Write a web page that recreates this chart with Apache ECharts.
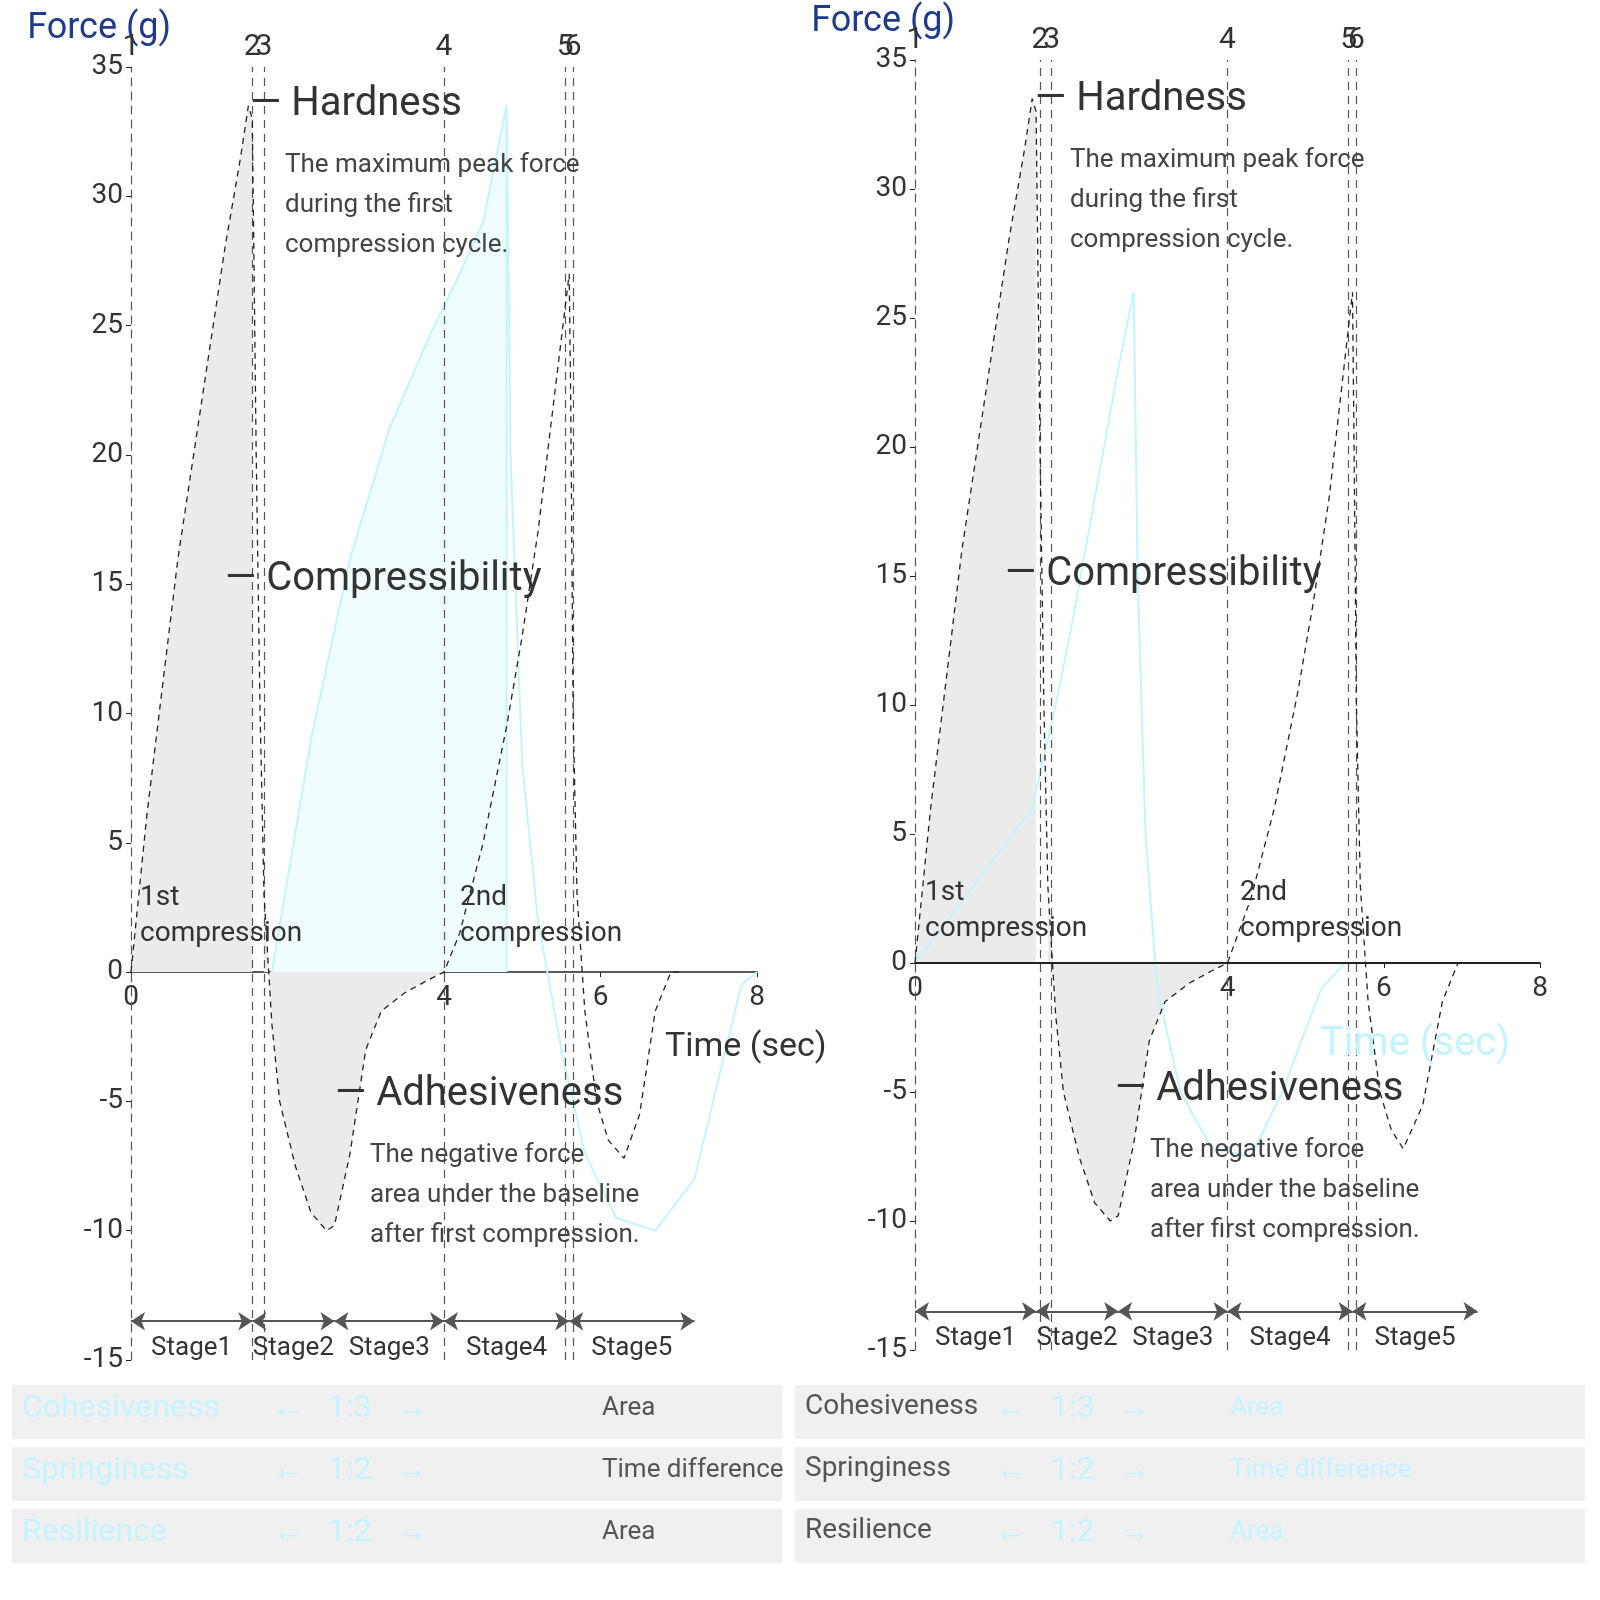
<!DOCTYPE html>
<html>
<head>
<meta charset="utf-8">
<script src="https://cdn.jsdelivr.net/npm/echarts@6/dist/echarts.min.js"></script>
<style>html,body{margin:0;background:#fff}#c{width:1600px;height:1600px}</style>
</head>
<body>
<div id="c"></div>
<script>
// force curves, [time sec, force g]
const leftForce = [[0,0],[0.1,3],[0.2,6],[0.4,11],[0.6,16],[0.8,20],[1.0,24],[1.2,28],[1.4,31.5],[1.5,33.5],[1.55,33],[1.6,20],[1.65,10],[1.7,3],[1.8,-2],[1.9,-5],[2.1,-7.5],[2.3,-9.3],[2.5,-10],[2.6,-9.8],[2.8,-7],[3.0,-3],[3.2,-1.5],[3.5,-0.8],[3.8,-0.3],[4.0,0],[4.2,1.5],[4.5,5],[4.8,9.5],[5.0,13],[5.2,17],[5.4,22],[5.6,27],[5.62,22],[5.65,10],[5.7,3],[5.8,-1.5],[5.95,-5],[6.1,-6.5],[6.3,-7.2],[6.5,-5.5],[6.7,-1.5],[6.9,0],[7.0,0]];
const rightForce = [[0,0],[0.1,3],[0.2,6],[0.4,11],[0.6,16],[0.8,20],[1.0,24],[1.2,28],[1.4,31.5],[1.5,33.5],[1.55,33],[1.6,20],[1.65,10],[1.7,3],[1.8,-2],[1.9,-5],[2.1,-7.5],[2.3,-9.3],[2.5,-10],[2.6,-9.8],[2.8,-7],[3.0,-3],[3.2,-1.5],[3.5,-0.8],[3.8,-0.3],[4.0,0],[4.3,2.5],[4.6,6],[4.9,10.5],[5.1,14],[5.3,18],[5.45,22],[5.6,26],[5.62,20],[5.65,10],[5.7,3],[5.8,-1.5],[5.95,-5],[6.1,-6.5],[6.25,-7.2],[6.5,-5.5],[6.75,-1.5],[6.95,0],[7.0,0]];
const leftCyanArea = [[1.8,0],[2.3,9],[2.8,16],[3.3,21],[3.8,24.5],[4.2,27],[4.5,29],[4.8,33.5],[4.8,0]];
const leftCyanLine = [[4.8,33.5],[4.85,20],[5.0,8],[5.2,2],[5.5,-3],[5.8,-7],[6.2,-9.5],[6.7,-10],[7.2,-8],[7.6,-3],[7.8,-0.5],[8,0]];
const rightCyan = [[0,0],[0.5,2],[1,4],[1.5,6],[1.8,10],[2,13],[2.3,18],[2.6,23],[2.8,26],[2.85,15],[2.95,5],[3.1,-1],[3.4,-5],[3.8,-7.2],[4.3,-7.5],[4.7,-5],[5.2,-1],[5.5,0]];
const leftMarks = [0, 1.55, 1.7, 4, 5.55, 5.65];
const rightMarks = [0, 1.6, 1.75, 4, 5.55, 5.65];
const markLabels = ['1', '2', '3', '4', '5', '6'];
const stageBounds = [0, 1.55, 2.6, 4, 5.6, 7.2];
const stageNames = ['Stage1', 'Stage2', 'Stage3', 'Stage4', 'Stage5'];
const tableRows = [
  ['Cohesiveness', '1:3', 'Area'],
  ['Springiness', '1:2', 'Time difference'],
  ['Resilience', '1:2', 'Area']
];

const chart = echarts.init(document.getElementById('c'));
const font = 'Roboto';
const cyan = '#c4f4ff';
const dash = { color: '#222', width: 1.3, type: [6, 5] };

const subset = (arr, a, b) => arr.filter(p => p[0] >= a && p[0] <= b);

function panel(i, force, marks, cy) {
  const s = [];
  s.push({ type: 'line', xAxisIndex: i, yAxisIndex: i, data: force, symbol: 'none', lineStyle: dash, z: 5,
    markLine: { silent: true, symbol: 'none', label: { show: true, position: 'end', color: '#333', fontSize: 30, fontFamily: font,
      formatter: p => markLabels[p.dataIndex] }, lineStyle: { color: '#555', type: [8, 6], width: 1.2 },
      data: marks.map(m => ({ xAxis: m })) } });
  s.push({ type: 'line', xAxisIndex: i, yAxisIndex: i, data: subset(force, 0, 1.55), symbol: 'none', lineStyle: { width: 0 }, areaStyle: { color: '#ebebeb', opacity: 1 }, z: 1 });
  s.push({ type: 'line', xAxisIndex: i, yAxisIndex: i, data: subset(force, 1.7, 4), symbol: 'none', lineStyle: { width: 0 }, areaStyle: { color: '#ebebeb', opacity: 1 }, z: 1 });
  cy.forEach(c => s.push({ type: 'line', xAxisIndex: i, yAxisIndex: i, data: c.data, symbol: 'none',
    lineStyle: { color: cyan, width: 2 }, areaStyle: c.area ? { color: '#effdff', opacity: 1 } : undefined, z: 2 }));
  // stage arrows
  s.push({ type: 'line', xAxisIndex: i, yAxisIndex: i, data: [], markLine: { silent: true, symbol: ['arrow', 'arrow'], symbolSize: 14,
    lineStyle: { color: '#555', type: 'solid', width: 2 },
    label: { show: true, position: 'middle', distance: -40, color: '#333', fontSize: 26, fontFamily: font, formatter: p => stageNames[p.dataIndex % 5] },
    data: stageNames.map((n, k) => [{ coord: [stageBounds[k], -13.5] }, { coord: [stageBounds[k + 1], -13.5] }]) } });
  return s;
}

// x axis sits on the zero line: 15 of 50 units above the grid bottom
const axisCommon = (gi, h) => ({
  type: 'value', gridIndex: gi, min: 0, max: 8, interval: 2,
  axisLine: { onZero: false, lineStyle: { color: '#222', width: 1.5 } }, offset: -h * 15 / 50,
  axisTick: { show: true }, splitLine: { show: false },
  axisLabel: { fontSize: 28, color: '#333', fontFamily: font, margin: 12 }
});
const yCommon = gi => ({
  type: 'value', gridIndex: gi, min: -15, max: 35, interval: 5, splitLine: { show: false },
  axisLine: { show: true, lineStyle: { color: '#222', type: [8, 6] } }, axisTick: { show: true },
  axisLabel: { fontSize: 28, color: '#333', fontFamily: font },
  name: 'Force (g)', nameLocation: 'end', nameGap: 20,
  nameTextStyle: { fontSize: 36, color: '#1f3a8a', fontFamily: font, align: 'right', padding: [0, -40, 0, 0] }
});

const graphic = [];
const txt = (x, y, text, size, fill, extra) => graphic.push({ type: 'text', left: x, top: y, z: 100,
  style: Object.assign({ text, fontSize: size, fill, fontFamily: font }, extra || {}) });
const annot = (x, y, title, body) => {
  txt(x, y, '— ' + title, 40, '#333');
  if (body) txt(x + 35, y + 60, body, 26, '#444', { lineHeight: 40 });
};
annot(250, 85, 'Hardness', 'The maximum peak force\nduring the first\ncompression cycle.');
annot(225, 560, 'Compressibility');
annot(335, 1075, 'Adhesiveness', 'The negative force\narea under the baseline\nafter first compression.');
annot(1035, 80, 'Hardness', 'The maximum peak force\nduring the first\ncompression cycle.');
annot(1005, 555, 'Compressibility');
annot(1115, 1070, 'Adhesiveness', 'The negative force\narea under the baseline\nafter first compression.');
[[140, 880, '1st\ncompression'], [460, 880, '2nd\ncompression'], [925, 875, '1st\ncompression'], [1240, 875, '2nd\ncompression']].forEach(t =>
  txt(t[0], t[1], t[2], 28, '#333', { lineHeight: 36, align: 'center' }));
txt(665, 1030, 'Time (sec)', 34, '#333');
txt(1320, 1025, 'Time (sec)', 40, cyan);
tableRows.forEach((r, k) => {
  const y = 1385 + k * 62;
  [[12, 770], [795, 790]].forEach(([x, w], side) => {
    graphic.push({ type: 'rect', left: x, top: y, z: 90, shape: { width: w, height: 54 }, style: { fill: '#f0f0f0' } });
    txt(x + 10, y + 8, r[0], side ? 28 : 32, side ? '#555' : cyan);
    txt(x + (side ? 200 : 260), y + 8, '←   ' + r[1] + '   →', 32, cyan);
    txt(x + (side ? 435 : 590), y + 10, r[2], 26, side ? cyan : '#555');
  });
});

chart.setOption({
  animation: false,
  grid: [
    { left: 131, top: 67, width: 626, height: 1293, containLabel: false, outerBoundsMode: 'none' },
    { left: 915, top: 60, width: 625, height: 1290, containLabel: false, outerBoundsMode: 'none' }
  ],
  xAxis: [axisCommon(0, 1293), axisCommon(1, 1290)],
  yAxis: [yCommon(0), yCommon(1)],
  graphic,
  series: [
    ...panel(0, leftForce, leftMarks, [{ data: leftCyanArea, area: true }, { data: leftCyanLine }]),
    ...panel(1, rightForce, rightMarks, [{ data: rightCyan }]),
    { type: 'line', xAxisIndex: 1, yAxisIndex: 1, data: [[0, 0], [8, 0]], symbol: 'none', lineStyle: { color: '#222', width: 2 } }
  ]
});
</script>
</body>
</html>
